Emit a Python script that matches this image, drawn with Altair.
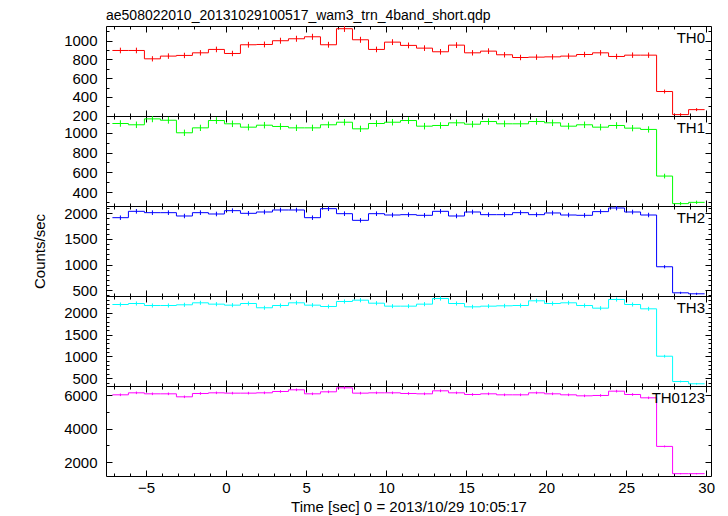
import altair as alt
import pandas as pd

FONT = "Liberation Sans"

title_text = "ae508022010_20131029100517_wam3_trn_4band_short.qdp"
x_title = "Time [sec] 0 = 2013/10/29 10:05:17"
y_title = "Counts/sec"

bin_centers = [-6.6, -5.6, -4.6, -3.6, -2.6, -1.6, -0.6, 0.4, 1.4, 2.4,
               3.4, 4.4, 5.4, 6.4, 7.4, 8.4, 9.4, 10.4, 11.4, 12.4,
               13.4, 14.4, 15.4, 16.4, 17.4, 18.4, 19.4, 20.4, 21.4, 22.4,
               23.4, 24.4, 25.4, 26.4, 27.4, 28.4, 29.4]
bin_half_width = 0.5

band_names = ["TH0", "TH1", "TH2", "TH3", "TH0123"]
band_colors = ["#ff0000", "#00ff00", "#0000ff", "#00ffff", "#ff00ff"]

th0_rate = [895, 895, 806, 835, 842, 870, 906, 863, 956, 959, 999, 1020, 1041, 956, 1127, 1009, 906, 984, 949, 920,
            881, 952, 870, 888, 849, 820, 824, 827, 835, 852, 870, 831, 845, 845, 457, 211, 264]
th0_err = [30, 30, 28, 29, 29, 29, 30, 29, 31, 31, 32, 32, 32, 31, 34, 32, 30, 31, 31, 30,
           30, 31, 29, 30, 29, 29, 29, 29, 29, 29, 29, 29, 29, 29, 21, 15, 16]

th1_rate = [1094, 1081, 1141, 1127, 1000, 1050, 1124, 1091, 1057, 1077, 1064, 1050, 1050, 1081, 1107, 1040, 1094, 1107, 1124, 1067,
            1074, 1101, 1087, 1114, 1091, 1091, 1114, 1101, 1067, 1081, 1057, 1074, 1047, 1034, 562, 283, 296]
th1_err = [33, 33, 34, 34, 32, 32, 34, 33, 33, 33, 33, 32, 32, 33, 33, 32, 33, 33, 34, 33,
           33, 33, 33, 33, 33, 33, 33, 33, 33, 33, 33, 33, 32, 32, 24, 17, 17]

th2_rate = [1915, 2039, 2013, 2013, 1948, 2013, 1987, 2052, 2000, 2026, 2065, 2065, 1915, 2091, 1993, 1863, 1993, 1967, 1974, 1961,
            2039, 1948, 2026, 1974, 1974, 2013, 1974, 2007, 1967, 1961, 2033, 2104, 2026, 1967, 957, 448, 429]
th2_err = [44, 45, 45, 45, 44, 45, 45, 45, 45, 45, 45, 45, 44, 46, 45, 43, 45, 44, 44, 44,
           45, 44, 45, 44, 44, 45, 44, 45, 44, 44, 45, 46, 45, 44, 31, 21, 21]

th3_rate = [2190, 2213, 2167, 2167, 2183, 2229, 2198, 2175, 2213, 2115, 2167, 2229, 2175, 2144, 2259, 2289, 2220, 2152, 2152, 2198,
            2328, 2213, 2137, 2152, 2160, 2167, 2275, 2213, 2229, 2167, 2106, 2305, 2190, 2091, 1004, 424, 372]
th3_err = [47, 47, 47, 47, 47, 47, 47, 47, 47, 46, 47, 47, 47, 46, 48, 48, 47, 46, 46, 47,
           48, 47, 46, 46, 46, 47, 48, 47, 47, 47, 46, 48, 47, 46, 32, 21, 19]

th0123_rate = [6040, 6160, 6100, 6100, 5920, 6120, 6160, 6140, 6140, 6160, 6240, 6340, 6100, 6220, 6460, 6140, 6160, 6160, 6120, 6100,
               6280, 6160, 6060, 6100, 6040, 6040, 6160, 6100, 6040, 5980, 6000, 6260, 6060, 5860, 2940, 1300, 1300]
th0123_err = [78, 78, 78, 78, 77, 78, 78, 78, 78, 78, 79, 80, 78, 79, 80, 78, 78, 78, 78, 78,
              79, 78, 78, 78, 78, 78, 78, 78, 78, 77, 77, 79, 78, 77, 54, 36, 36]

rates = [th0_rate, th1_rate, th2_rate, th3_rate, th0123_rate]
errors = [th0_err, th1_err, th2_err, th3_err, th0123_err]

y_domains = [[196, 1156], [259, 1170], [386, 2143], [321, 2385], [1161, 6570]]
y_major_ticks = [[200, 400, 600, 800, 1000], [400, 600, 800, 1000], [500, 1000, 1500, 2000],
                 [500, 1000, 1500, 2000], [2000, 4000, 6000]]
y_minor_ticks = [[200, 300, 400, 500, 600, 700, 800, 900, 1000, 1100],
                 [300, 400, 500, 600, 700, 800, 900, 1000, 1100],
                 [400, 500, 600, 700, 800, 900, 1000, 1100, 1200, 1300, 1400, 1500, 1600, 1700, 1800, 1900, 2000, 2100],
                 [400, 500, 600, 700, 800, 900, 1000, 1100, 1200, 1300, 1400, 1500, 1600, 1700, 1800, 1900, 2000, 2100, 2200, 2300],
                 [2000, 3000, 4000, 5000, 6000]]
x_domain = [-7.5, 30.3]
x_major_ticks = [-5, 0, 5, 10, 15, 20, 25, 30]
x_minor_ticks = [-7, -6, -5, -4, -3, -2, -1, 0, 1, 2, 3, 4, 5, 6, 7, 8, 9, 10, 11, 12, 13, 14, 15,
                 16, 17, 18, 19, 20, 21, 22, 23, 24, 25, 26, 27, 28, 29, 30]

PANEL_W = 605
PANEL_H = 90
MAJOR = 6
MINOR = 3


def axis(orient, values, size, labels=False, title=None, **kw):
    return alt.Axis(orient=orient, values=values, tickSize=size, offset=-size, domain=False,
                    grid=False, labels=labels, title=title, format="d", labelFlush=False,
                    labelOverlap=False, tickColor="black", tickWidth=1, **kw)


def make_panel(i):
    last = i == len(band_names) - 1
    rate = rates[i]
    err = errors[i]
    color = band_colors[i]
    edges = [c - bin_half_width for c in bin_centers] + [bin_centers[-1] + bin_half_width]
    step_df = pd.DataFrame({"t": edges, "rate": rate + [rate[-1]]})
    pt_df = pd.DataFrame({
        "t": bin_centers,
        "rate": rate,
        "lo": [r - e for r, e in zip(rate, err)],
        "hi": [r + e for r, e in zip(rate, err)],
    })
    xs = alt.Scale(domain=x_domain, nice=False, zero=False)
    ys = alt.Scale(domain=y_domains[i], nice=False, zero=False)

    step = alt.Chart(step_df).mark_line(interpolate="step-after", color=color, strokeWidth=1, clip=True).encode(
        x=alt.X("t:Q", scale=xs,
                axis=axis("bottom", x_major_ticks, MAJOR, labels=last, title=x_title if last else None,
                          labelPadding=4, titlePadding=4)),
        y=alt.Y("rate:Q", scale=ys,
                axis=axis("left", y_major_ticks[i], MAJOR, labels=True, title=y_title if i == 2 else None,
                          labelPadding=9, titlePadding=16)),
    )
    errbar = alt.Chart(pt_df).mark_rule(color=color, strokeWidth=1, clip=True).encode(
        x=alt.X("t:Q", scale=xs, axis=axis("bottom", x_minor_ticks, MINOR)),
        y=alt.Y("lo:Q", scale=ys, axis=axis("left", y_minor_ticks[i], MINOR)),
        y2="hi:Q",
    )
    frame_major = alt.Chart(pt_df).mark_point(opacity=0, size=0, strokeOpacity=0, fillOpacity=0).encode(
        x=alt.X("t:Q", scale=xs, axis=axis("top", x_major_ticks, MAJOR)),
        y=alt.Y("rate:Q", scale=ys, axis=axis("right", y_major_ticks[i], MAJOR)),
    )
    frame_minor = alt.Chart(pt_df).mark_point(opacity=0, size=0, strokeOpacity=0, fillOpacity=0).encode(
        x=alt.X("t:Q", scale=xs, axis=axis("top", x_minor_ticks, MINOR)),
        y=alt.Y("rate:Q", scale=ys, axis=axis("right", y_minor_ticks[i], MINOR)),
    )
    label = alt.Chart(pd.DataFrame({"name": [band_names[i]]})).mark_text(
        align="right", baseline="top", fontSize=15, font=FONT, color="black"
    ).encode(x=alt.value(PANEL_W - 6), y=alt.value(5), text="name:N")

    layer = alt.layer(step, errbar, frame_major, frame_minor, label).resolve_axis(
        x="independent", y="independent"
    ).properties(width=PANEL_W, height=PANEL_H)
    if i == 0:
        layer = layer.properties(title=alt.TitleParams(text=title_text, anchor="start", frame="group",
                                                       fontSize=14, font=FONT, fontWeight="normal",
                                                       color="black", offset=3))
    return layer


chart = alt.vconcat(*[make_panel(i) for i in range(len(band_names))], spacing=0, bounds="flush").properties(
    padding={"left": 24, "top": 0, "right": 2, "bottom": 0}
).configure_view(
    stroke="black", strokeWidth=1
).configure_axis(
    labelFont=FONT, labelFontSize=15, labelColor="black",
    titleFont=FONT, titleFontSize=15, titleFontWeight="normal", titleColor="black",
)

chart.save("out.html", embed_options={"renderer": "svg", "actions": False})
